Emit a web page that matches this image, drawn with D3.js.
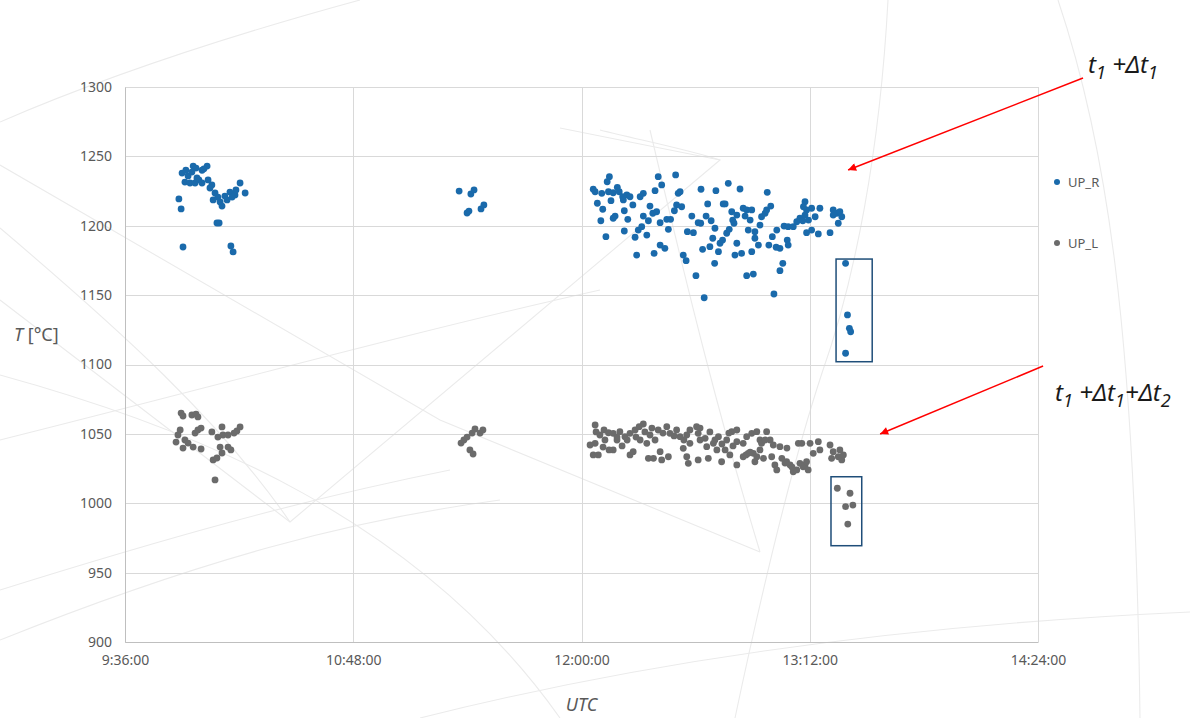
<!DOCTYPE html>
<html>
<head>
<meta charset="utf-8">
<script src="https://cdn.jsdelivr.net/npm/d3@7"></script>
<style>
  html, body { margin: 0; padding: 0; background: #fff; }
  svg { display: block; }
  text { font-family: "Noto Sans", "Open Sans", sans-serif; }
</style>
</head>
<body>
<svg id="chart" width="1190" height="718"></svg>
<script>
// Time is given in minutes after midnight (UTC), temperature in °C.

// Time axis ticks (minutes after midnight)
const xTicks = [576, 648, 720, 792, 864];
// Temperature axis ticks
const yTicks = [900, 950, 1000, 1050, 1100, 1150, 1200, 1250, 1300];

const seriesNames = ["UP_R", "UP_L"];

// UP_R readings: [time, temperature]
const upR = [
  [594.0,1238],[595.2,1240],[597.5,1243],[598.4,1241.6],[600.3,1240],[601.9,1243],[600.9,1241],
  [594.9,1231.5],[596.5,1230.8],[598.1,1230.8],[599.3,1233],[600.3,1230.8],[598.7,1234.4],
  [603.4,1229.4],[604.4,1223.6],[603.8,1218.6],[606.0,1217.1],[606.6,1214.2],[608.2,1218.6],
  [609.1,1224.3],[610.7,1222.2],[612.3,1230.8],[613.9,1223.6],[593.0,1219.3],[593.7,1212.1],
  [605.0,1202],[605.7,1202],[609.4,1185.4],[610.1,1181.1],[594.3,1184.7],
  [595.9,1235.9],[597.1,1238.7],[602.8,1227.2],[607.5,1221.4],[605.3,1220.7],[611.0,1225.8],
  [602.2,1233],[609.8,1220.7],
  [681.4,1225],[685.1,1222.9],[686.1,1225.8],[683.9,1209.2],[684.5,1210.6],[688.3,1212.1],[689.2,1215],
  [728.8,1235.4],[728.1,1231.7],[744.2,1235.4],[749.7,1236.6],[745.3,1229.4],[723.7,1226.3],
  [724.3,1224.5],[726.4,1223.4],[728.5,1224.5],[730.0,1223.8],[731.3,1227.7],[731.9,1224.5],
  [733.0,1220.9],[733.2,1218.6],[734.3,1222.2],[735.3,1220.9],[736.2,1215.0],[738.5,1220.9],
  [739.5,1223.4],[743.2,1225.3],[750.5,1223.4],[751.1,1224.5],[750.0,1215.0],[751.6,1213.7],
  [757.7,1226.3],[762.4,1225.3],[766.3,1230.6],[770.0,1226.5],[778.6,1224.1],[725.0,1216.2],
  [726.7,1211.9],[729.3,1218.1],[730.6,1207.0],[730.0,1205.4],[733.5,1210.8],[734.6,1204.6],
  [726.1,1203.6],[741.6,1214.2],[742.5,1209.0],[743.7,1210.1],[739.5,1207.0],[741.1,1203.6],
  [744.8,1202.2],[746.9,1204.6],[748.1,1204.6],[749.3,1210.8],[747.4,1197.4],[739.0,1199.3],
  [737.9,1196.9],[733.5,1196.2],[736.9,1191.7],[740.6,1193.3],[727.7,1192.1],[744.8,1186.1],
  [746.3,1183.7],[742.9,1180.1],[737.4,1178.9],[754.8,1207.0],[756.8,1202.2],[757.6,1201.8],
  [753.4,1195.7],[755.3,1195.0],[759.8,1215.7],[759.3,1207.0],[760.9,1203.6],[762.1,1198.2],
  [761.4,1191.0],[764.7,1215.7],[765.3,1215.7],[767.4,1210.1],[767.7,1204.1],[768.1,1201.8],
  [769.0,1207.7],[771.0,1212.6],[772.1,1211.4],[771.6,1207.0],[773.2,1204.1],[773.7,1211.4],
  [772.6,1196.9],[774.7,1195.7],[774.7,1191.0],[776.3,1200.5],[776.8,1206.5],[777.9,1209.0],
  [778.4,1211.4],[779.7,1214.2],[760.5,1184.9],[758.2,1183.0],[763.2,1181.3],[763.7,1187.4],
  [764.5,1189.7],[765.8,1194.6],[766.6,1197.4],[769.0,1187.4],[768.4,1178.9],[770.5,1180.1],
  [773.7,1181.3],[775.8,1186.1],[779.1,1186.1],[780.2,1192.1],[781.6,1196.9],[781.4,1184.5],
  [782.6,1183.7],[783.9,1199.8],[785.2,1199.3],[784.9,1189.7],[785.2,1186.1],[786.8,1199.3],
  [787.9,1202.9],[788.9,1205.4],[789.8,1203.6],[791.0,1195.0],[790.5,1217.3],[791.0,1211.4],
  [752.1,1178.9],[753.0,1174.8],[762.0,1172.9],[756.1,1164.0],[772.1,1164.0],[774.2,1165.2],
  [783.5,1172.9],[782.6,1167.6],[758.7,1148.1],[780.7,1150.8],
  [790.0,1213.7],[792.6,1212.6],[795.2,1212.6],[790.5,1207.7],[791.6,1204.1],[793.7,1206.5],
  [792.6,1196.9],[794.7,1194.1],[798.4,1195.0],[799.4,1211.4],[800.5,1209.0],[801.5,1210.1],
  [802.1,1206.5],[801.0,1201.8],[799.4,1207.7],
  [803.3,1172.9],[803.9,1135.7],[804.5,1126.1],[804.9,1123.6],[803.3,1108.1]
];

// UP_L readings: [time, temperature]
const upL = [
  [593.7,1065],[594.3,1062.9],[597.1,1063.6],[598.4,1064.3],[599.0,1062.2],
  [593.4,1052.8],[592.7,1049.2],[592.1,1044.1],[594.9,1045.6],[595.9,1043.4],[594.3,1039.8],
  [597.5,1040.5],[598.1,1050.6],[599.0,1052.8],[600.0,1054.2],[600.0,1039.1],
  [603.4,1051.4],[606.6,1055],[606.9,1049.2],[605.3,1047.7],[608.5,1049.2],[610.4,1050.6],
  [611.3,1052.1],[612.3,1055],[606.0,1040.5],[608.5,1040.5],[609.4,1038.4],[606.6,1036.2],
  [603.8,1031.2],[605.0,1032.6],[604.4,1016.8],
  [682.0,1043.4],[682.9,1045.6],[683.9,1047.7],[685.5,1050.6],[686.4,1053.5],[688.0,1050.6],
  [688.9,1052.8],[684.8,1038.4],[685.8,1035.5],
  [724.3,1056.4],[725.8,1049.2],[727.1,1052.8],[728.5,1050.8],[730.0,1050.4],[732.1,1051.6],
  [733.7,1048.0],[735.3,1050.4],[736.9,1052.8],[738.2,1055.2],[739.5,1057.1],[724.3,1043.2],
  [723.7,1034.8],[725.3,1034.8],[730.0,1038.4],[735.3,1034.8],[736.3,1037.2],[740.6,1043.2],
  [741.6,1049.2],[744.2,1052.8],[746.9,1055.2],[747.9,1050.4],[750.0,1052.8],[751.1,1048.0],
  [741.1,1032.4],[742.7,1032.4],[744.8,1037.2],[745.3,1031.2],[747.4,1033.5],[753.2,1049.2],
  [754.2,1043.2],[756.3,1055.2],[756.8,1050.4],[759.0,1046.8],[752.1,1039.6],[753.2,1033.5],
  [753.7,1028.8],[756.8,1031.2],[760.0,1032.4],[759.5,1040.8],[761.6,1043.2],[763.2,1048.0],
  [762.7,1038.4],[764.2,1029.9],[765.8,1045.6],[767.4,1051.6],[769.0,1052.8],[769.0,1044.4],
  [771.0,1043.2],[772.1,1048.0],[773.7,1050.4],[775.3,1051.6],[776.3,1045.6],[776.8,1043.2],
  [778.4,1051.6],[779.5,1045.6],[780.5,1042.0],[782.6,1040.8],[769.0,1027.6],[771.0,1033.5],
  [772.6,1036.0],[774.2,1036.0],[775.3,1033.5],[774.7,1029.9],[777.4,1032.4],[780.0,1033.5],
  [781.0,1027.6],[781.6,1024.0],[783.2,1032.4],[784.7,1029.9],[785.8,1027.6],[786.8,1022.7],
  [788.4,1043.2],[788.9,1028.8],[789.9,1026.3],[787.9,1024.0],
  [722.7,1042.0],[731.2,1045.6],[732.8,1041.3],[727.4,1045.6],[738.5,1045.6],[740.0,1051.4],
  [743.2,1045.6],[745.7,1050.6],[754.2,1052.8],[757.4,1045.6],[760.5,1051.4],[765.3,1038.4],
  [766.8,1034.8],[776.3,1038.4],[777.9,1045.6],[784.8,1039.8],
  [731.2,1047.7],[734.4,1045.6],[737.2,1047.7],[726.8,1040.5],[728.7,1038.4],[749.2,1048.5],
  [752.3,1045.6],[762.1,1045.6],[764.3,1042.7],[767.8,1041.3],[771.9,1034.8],[773.2,1036.9],
  [784.2,1029.0],[786.4,1026.1],[790.5,1027.6],[791.5,1024.0],[724.6,1051.4],[742.2,1054.2],
  [757.4,1054.2],[766.5,1050.6],
  [789.5,1043.2],[792.1,1043.2],[794.7,1044.4],[793.1,1036.0],[795.2,1038.4],[791.0,1029.9],
  [798.4,1042.0],[799.4,1037.2],[798.9,1032.4],[801.0,1033.5],[802.1,1031.2],[802.6,1034.8],
  [801.5,1038.4],
  [800.7,1010.8],[804.7,1007.2],[803.3,997.5],[805.6,998.7],[804.0,985.0]
];

// Highlighted groups: [[time from, temp high], [time to, temp low]]
const boxR = [[800.3, 1176.0], [811.7, 1102.0]];
const boxL = [[798.7, 1019.1], [808.4, 969.4]];

// Annotation arrows: [[start time, start temp], [end time, end temp]]
const arrowR = [[878.2, 1306.5], [804.1, 1240.2]];
const arrowL = [[865.6, 1098.9], [814.2, 1049.9]];

const colors = ["#1a6aab", "#6b6b6b"];

const svg = d3.select("#chart");
const W = 1190, H = 718;
const margin = { left: 125, right: 152, top: 87, bottom: 76 };

const x = d3.scaleLinear().domain([576, 864]).range([margin.left, W - margin.right]);
const y = d3.scaleLinear().domain([900, 1300]).range([H - margin.bottom, margin.top]);

// Faint decorative strokes in the background
const deco = svg.append("g").attr("fill", "none").attr("stroke", "#ebebeb").attr("stroke-width", 1.1);
[
  "M 0 122 C 120 70, 250 30, 360 0",
  "M 0 165 L 440 420 L 760 552",
  "M 0 228 C 120 330, 220 420, 290 522",
  "M 0 300 L 290 522 L 720 160 L 560 128",
  "M 0 375 C 200 430, 420 520, 560 718",
  "M 0 440 C 200 390, 420 330, 600 290",
  "M 0 590 C 160 540, 300 500, 450 470",
  "M 0 640 C 200 560, 350 520, 500 500",
  "M 760 552 C 720 420, 690 300, 650 130",
  "M 888 0 C 880 150, 855 280, 822 373 C 790 470, 760 600, 735 718",
  "M 1058 0 C 1105 140, 1135 320, 1140 718",
  "M 420 718 C 650 660, 900 625, 1190 612",
  "M 600 130 C 640 140, 690 150, 720 160"
].forEach(d => deco.append("path").attr("d", d));

// Gridlines
const grid = svg.append("g").attr("stroke", "#d9d9d9").attr("stroke-width", 1);
grid.selectAll("line.h").data(yTicks).join("line")
  .attr("x1", x(576)).attr("x2", x(864))
  .attr("y1", d => Math.round(y(d)) + 0.5).attr("y2", d => Math.round(y(d)) + 0.5);
grid.selectAll("line.v").data(xTicks).join("line")
  .attr("y1", y(900)).attr("y2", y(1300))
  .attr("x1", d => Math.round(x(d)) + 0.5).attr("x2", d => Math.round(x(d)) + 0.5);

// Axes
const fmtTime = m => `${Math.floor(m / 60)}:${String(m % 60).padStart(2, "0")}:00`;
const xAxis = d3.axisBottom(x).tickValues(xTicks).tickFormat(fmtTime).tickSize(0).tickPadding(13);
const yAxis = d3.axisLeft(y).tickValues(yTicks).tickFormat(d3.format("d")).tickSize(0).tickPadding(13);

const gx = svg.append("g").attr("transform", `translate(0,${y(900)})`).call(xAxis);
const gy = svg.append("g").attr("transform", `translate(${x(576)},0)`).call(yAxis);
[gx, gy].forEach(g => {
  g.select(".domain").attr("stroke", "#bfbfbf");
  g.selectAll("text").attr("fill", "#595959").style("font-size", "14px")
    .style("font-family", "'Noto Sans', sans-serif");
});

// Axis titles
svg.append("text").attr("x", x(720)).attr("y", 711).attr("text-anchor", "middle")
  .attr("fill", "#595959").style("font-size", "18px").style("font-style", "italic").text("UTC");
const yt = svg.append("text").attr("x", 14).attr("y", 341).attr("fill", "#595959").style("font-size", "18px");
yt.append("tspan").style("font-style", "italic").text("T");
yt.append("tspan").text(" [°C]");

// Points
const series = [upR, upL];
series.forEach((data, i) => {
  svg.append("g").selectAll("circle").data(data).join("circle")
    .attr("cx", d => x(d[0])).attr("cy", d => y(d[1])).attr("r", 3.4)
    .attr("fill", colors[i]);
});

// Highlight boxes
[boxR, boxL].forEach(b => {
  svg.append("rect")
    .attr("x", x(b[0][0])).attr("y", y(b[0][1]))
    .attr("width", x(b[1][0]) - x(b[0][0])).attr("height", y(b[1][1]) - y(b[0][1]))
    .attr("fill", "none").attr("stroke", "#1f4e79").attr("stroke-width", 1.5);
});

// Arrow marker
svg.append("defs").append("marker").attr("id", "head")
  .attr("viewBox", "0 0 10 10").attr("refX", 10).attr("refY", 5)
  .attr("markerWidth", 11).attr("markerHeight", 8).attr("markerUnits", "userSpaceOnUse")
  .attr("orient", "auto")
  .append("path").attr("d", "M0,0 L10,5 L0,10 Z").attr("fill", "#ff0000");
[arrowR, arrowL].forEach(a => {
  svg.append("line")
    .attr("x1", x(a[0][0])).attr("y1", y(a[0][1]))
    .attr("x2", x(a[1][0])).attr("y2", y(a[1][1]))
    .attr("stroke", "#ff0000").attr("stroke-width", 1.5)
    .attr("marker-end", "url(#head)");
});

// Annotation labels with subscripts
function label(xp, yp, parts) {
  const t = svg.append("text").attr("x", xp).attr("y", yp).attr("fill", "#1a1a1a")
    .style("font-size", "24px").style("font-style", "italic");
  let sub = false;
  parts.forEach(p => {
    const s = t.append("tspan").text(p.text);
    if (p.sub && !sub) { s.attr("dy", 6).style("font-size", "18px"); sub = true; }
    else if (!p.sub && sub) { s.attr("dy", -6); sub = false; }
  });
}
label(1088, 73, [{ text: "t" }, { text: "1", sub: true }, { text: " +Δt" }, { text: "1", sub: true }]);
label(1055, 401, [{ text: "t" }, { text: "1", sub: true }, { text: " +Δt" }, { text: "1", sub: true },
  { text: "+Δt" }, { text: "2", sub: true }]);

// Legend
const legend = svg.append("g");
seriesNames.forEach((name, i) => {
  const ly = 182 + i * 61;
  legend.append("circle").attr("cx", 1057).attr("cy", ly).attr("r", 3).attr("fill", colors[i]);
  legend.append("text").attr("x", 1068).attr("y", ly + 5).attr("fill", "#595959")
    .style("font-size", "13px").text(name);
});
</script>
</body>
</html>
